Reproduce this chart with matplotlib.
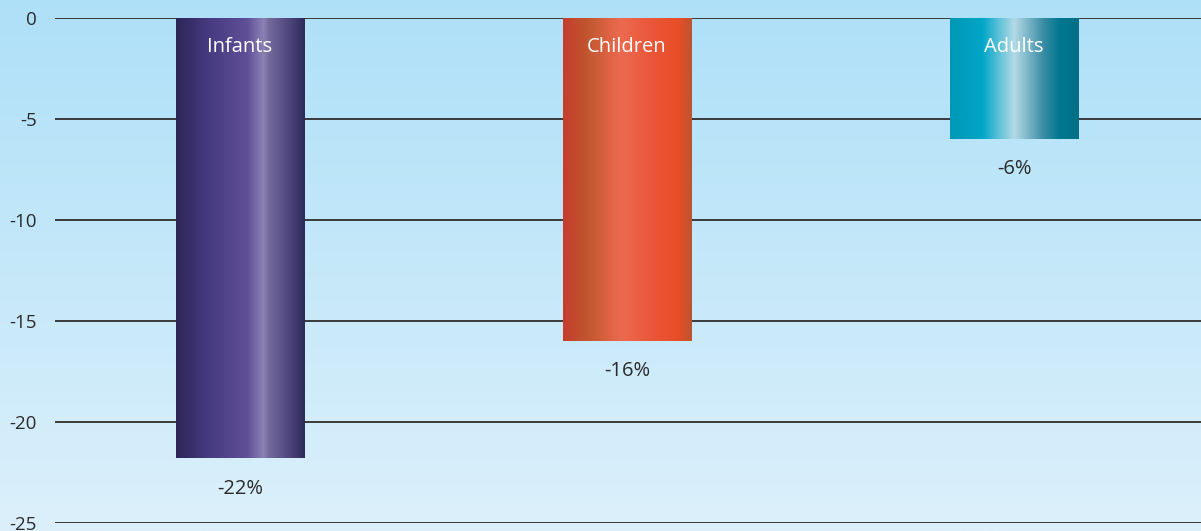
import matplotlib.pyplot as plt
import numpy as np
from matplotlib.colors import LinearSegmentedColormap

# data
groups = ['Infants', 'Children', 'Adults']
change = [-21.8, -16.0, -6.0]
value_labels = ['-22%', '-16%', '-6%']
yticks = [0, -5, -10, -15, -20, -25]

# metallic left->right shading for each bar
bar_shades = [
    [(0.0, '#2c2556'), (0.25, '#463a80'), (0.55, '#5f4f98'), (0.68, '#8c82b4'),
     (0.72, '#746a9c'), (0.9, '#4a4276'), (1.0, '#2e2a5a')],
    [(0.0, '#c63c2e'), (0.18, '#c0562e'), (0.45, '#ec6a50'), (0.7, '#ea5638'),
     (0.9, '#e84e28'), (1.0, '#bc5432')],
    [(0.0, '#0097b6'), (0.25, '#00a6c8'), (0.5, '#b4dae6'), (0.72, '#3c8ea6'),
     (0.85, '#00788f'), (1.0, '#006e86')],
]

plt.rcParams['font.family'] = ['Open Sans', 'DejaVu Sans']

fig = plt.figure(figsize=(12.01, 5.31), dpi=100)

# background gradient
bg = fig.add_axes([0, 0, 1, 1], zorder=0)
bg_cmap = LinearSegmentedColormap.from_list('bg', ['#aee0f8', '#dcf0fb'])
bg.imshow(np.linspace(0, 1, 256).reshape(-1, 1), aspect='auto', cmap=bg_cmap,
          extent=[0, 1, 0, 1])
bg.axis('off')

ax = fig.add_axes([55 / 1201, 1 - 523 / 531, 1 - 55 / 1201, 505 / 531], zorder=1)
ax.patch.set_alpha(0)

for y in yticks:
    ax.axhline(y, color='#3a3a3a', lw=1.4, zorder=1)

width = 0.333
grad = np.linspace(0, 1, 256).reshape(1, -1)
for i, (g, v, lab, shades) in enumerate(zip(groups, change, value_labels, bar_shades)):
    cmap = LinearSegmentedColormap.from_list(g, shades)
    ax.imshow(grad, aspect='auto', cmap=cmap, zorder=2,
              extent=[i - width / 2, i + width / 2, v, 0])
    ax.text(i, -1.45, g, ha='center', va='center', color='white', fontsize=14.5, zorder=3)
    ax.text(i, v - 1.5, lab, ha='center', va='center', color='#2b2b2b', fontsize=14.5, zorder=3)

ax.set_xlim(-0.478, 2.483)
ax.set_ylim(-25, 0)
ax.set_yticks(yticks)
ax.set_yticklabels([str(t) for t in yticks])
ax.tick_params(axis='y', length=0, pad=13, labelsize=13.5, labelcolor='#2b2b2b')
ax.set_xticks([])
for s in ax.spines.values():
    s.set_visible(False)

fig.savefig('out.png', dpi=100)
